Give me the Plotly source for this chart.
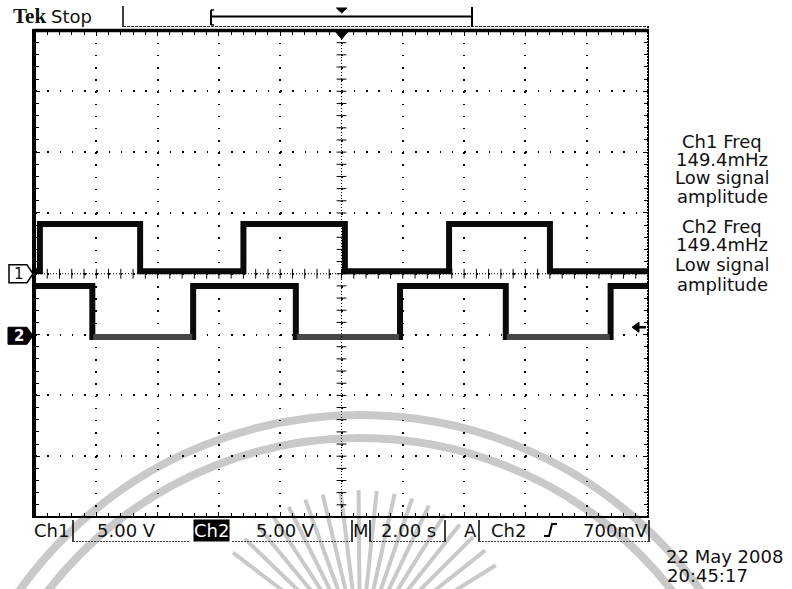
import numpy as np
import plotly.graph_objects as go

W, H = 792, 589

# ---- acquisition settings ----
volts_per_div = 5.00
sec_per_div = 2.00
ch1_position = 0.0      # ground marker offset, divisions
ch2_position = -1.02
trigger_level = 0.7     # V, Ch2 rising edge
ch1_freq_mhz = 149.4
ch2_freq_mhz = 149.4

# ---- waveforms: edge times (s) and the level held from each time ----
ch1_time = [-10.0, -9.84, -6.57, -3.20, 0.11, 3.51, 6.80, 10.0]
ch1_volts = [0.2, 4.1, 0.2, 4.1, 0.2, 4.1, 0.2, 0.2]

ch2_time = [-10.0, -8.13, -4.84, -1.49, 1.91, 5.36, 8.78, 10.0]
ch2_volts = [4.1, -0.1, 4.1, -0.1, 4.1, -0.1, 4.1, 4.1]

# ---- screen geometry (pixels) ----
GX0, GX1 = 35, 648
GY0, GY1 = 30.5, 517
FONT = "DejaVu Sans"


def px(x):
    return x / W


def py(y):
    return 1 - y / H


def div_to_pix(d):
    return GY0 + (4 - d) * (GY1 - GY0) / 8


def seg(x0, y0, x1, y1, w=1.0, color="black", dash=None, layer="above"):
    line = dict(color=color, width=w)
    if dash:
        line["dash"] = dash
    return dict(type="line", xref="paper", yref="paper", layer=layer,
                x0=px(x0), y0=py(y0), x1=px(x1), y1=py(y1), line=line)


def poly(points, fill="black", stroke="black", w=1.0, closed=True):
    p = "M " + " L ".join(f"{px(x):.5f},{py(y):.5f}" for x, y in points)
    if closed:
        p += " Z"
    return dict(type="path", xref="paper", yref="paper", path=p,
                fillcolor=fill, line=dict(color=stroke, width=w))


def to_div(volts, pos):
    return [v / volts_per_div + pos for v in volts]


ch1_div = to_div(ch1_volts, ch1_position)
ch2_div = to_div(ch2_volts, ch2_position)

fig = go.Figure()

# centre graticule cross-hair ticks
cy_ticks = np.arange(-4, 4.001, 0.2)
cx_ticks = np.arange(-10, 10.001, 0.4)
fig.add_trace(go.Scatter(x=np.zeros_like(cy_ticks), y=cy_ticks, mode="markers",
                         marker=dict(symbol="line-ew", size=7, color="black",
                                     line=dict(color="black", width=1)),
                         hoverinfo="skip", showlegend=False))
fig.add_trace(go.Scatter(x=cx_ticks, y=np.zeros_like(cx_ticks), mode="markers",
                         marker=dict(symbol="line-ns", size=7, color="black",
                                     line=dict(color="black", width=1)),
                         hoverinfo="skip", showlegend=False))

# channel traces
fig.add_trace(go.Scatter(x=ch1_time, y=ch1_div, mode="lines", line_shape="hv",
                         line=dict(color="#0a0a0a", width=6), name="Ch1",
                         showlegend=False))
fig.add_trace(go.Scatter(x=ch2_time, y=ch2_div, mode="lines", line_shape="hv",
                         line=dict(color="#0a0a0a", width=6), name="Ch2",
                         showlegend=False))

# Ch2 low plateaus render in a dimmer tone
lx, ly = [], []
for i in range(len(ch2_time) - 1):
    if ch2_volts[i] < 1.0:
        lx += [ch2_time[i] + 0.03, ch2_time[i + 1] - 0.03, None]
        ly += [ch2_div[i], ch2_div[i], None]
fig.add_trace(go.Scatter(x=lx, y=ly, mode="lines",
                         line=dict(color="#474747", width=6),
                         hoverinfo="skip", showlegend=False))

shapes = []

# faint seal watermark behind the screen
wm = "#c9c9c9"
for cx, cy, r in [(360, 833, 418), (360, 833, 395)]:
    shapes.append(dict(type="circle", xref="paper", yref="paper", layer="below",
                       x0=px(cx - r), x1=px(cx + r), y0=py(cy + r), y1=py(cy - r),
                       line=dict(color=wm, width=8)))
for ang in np.arange(32, 149, 6.5):
    a = np.radians(ang)
    shapes.append(seg(360 + 60 * np.cos(a), 650 - 60 * np.sin(a),
                      360 + 160 * np.cos(a), 650 - 160 * np.sin(a),
                      w=4, color=wm, layer="below"))

# centre lines (finer dotting)
shapes.append(dict(type="line", xref="x", yref="y", x0=0, x1=0, y0=-4, y1=4,
                   line=dict(color="black", width=1, dash="1px,2px")))
shapes.append(dict(type="line", xref="x", yref="y", x0=-10, x1=10, y0=0, y1=0,
                   line=dict(color="black", width=1, dash="1px,2px")))

# graticule frame
shapes.append(seg(GX0 - 1, GY0 - 1.5, GX0 - 1, GY1 + 1, w=4))
shapes.append(seg(GX0 - 2, GY0, GX1 + 1, GY0, w=3.5))
shapes.append(seg(GX1, 26, GX1, GY1 + 1, w=2, dash="2px,1px"))
shapes.append(seg(GX0 - 2, GY1, GX1 + 1, GY1, w=2))

# top status strip
shapes.append(seg(123, 6, 123, 27, w=1.5))
shapes.append(seg(123, 26.5, GX1, 26.5, w=1, color="#333", dash="3px,1px"))
shapes.append(seg(211, 16.5, 472, 16.5, w=2))
shapes.append(seg(211, 10, 211, 25, w=2))
shapes.append(seg(211, 10, 214, 10, w=1.5))
shapes.append(seg(211, 25, 214, 25, w=1.5))
shapes.append(seg(472, 7, 472, 27, w=2))
shapes.append(poly([(336.5, 8), (347, 8), (341.7, 13)]))
shapes.append(poly([(335, 31), (348.5, 31), (341.7, 39)]))

# channel ground markers
g1 = div_to_pix(ch1_position)
g2 = div_to_pix(ch2_position)
shapes.append(poly([(9, g1 - 9), (27, g1 - 9), (33, g1), (27, g1 + 9), (9, g1 + 9)],
                   fill="white", w=1.5))
shapes.append(poly([(8, g2 - 8.5), (27, g2 - 8.5), (33, g2), (27, g2 + 8.5), (8, g2 + 8.5)],
                   fill="black", w=1))

# trigger level arrow on the right edge
gt = div_to_pix(ch2_position + trigger_level / volts_per_div)
shapes.append(seg(637, gt, 646, gt, w=2.5))
shapes.append(poly([(632, gt), (639, gt - 5), (639, gt + 5)]))

# bottom readout frame
for x in (73, 352, 370, 445, 479, 649):
    shapes.append(seg(x, 520, x, 542, w=1.5))
for x0, x1 in ((73, 190), (232, 350), (370, 445), (479, 649)):
    shapes.append(seg(x0, 541.5, x1, 541.5, w=1, color="#444", dash="2px,1px"))
# rising-edge trigger slope glyph
shapes.append(poly([(544, 536), (549, 536), (552, 524), (557, 524)],
                   fill="rgba(0,0,0,0)", w=2, closed=False))

annotations = []


def txt(s, x, y, size=18, anchor="center", color="#111", family=FONT, **kw):
    annotations.append(dict(text=s, x=px(x), y=py(y), xref="paper", yref="paper",
                            showarrow=False, xanchor=anchor, yanchor="middle",
                            font=dict(family=family, size=size, color=color), **kw))


txt("<b>Tek</b>", 11, 16, size=21, anchor="left", family="Liberation Serif")
txt("Stop", 49, 16, size=18, anchor="left")

txt("1", 19, g1, size=15)
txt("<b>2</b>", 18.5, g2, size=15, color="white")

# measurement panel
panel = [
    ("Ch1 Freq", 141), (f"{ch1_freq_mhz:.1f}mHz", 159),
    ("Low signal", 177), ("amplitude", 196),
    ("Ch2 Freq", 226), (f"{ch2_freq_mhz:.1f}mHz", 244),
    ("Low signal", 264), ("amplitude", 284),
]
for s, y in panel:
    txt(s, 722, y, size=18)

# readout line
txt("Ch1", 51, 530)
txt(f"{volts_per_div:.2f} V", 126, 530)
txt("Ch2", 211.5, 530, color="white", bgcolor="black", borderpad=0)
txt(f"{volts_per_div:.2f} V", 285, 530)
txt("M", 361, 530)
txt(f"{sec_per_div:.2f} s", 408, 530)
txt("A", 470, 530)
txt("Ch2", 509, 530)
txt(f"{trigger_level * 1000:.0f}mV", 615, 530)

txt("22 May 2008", 664, 556, anchor="left")
txt("20:45:17", 665, 575, anchor="left")

fig.update_layout(
    width=W, height=H,
    margin=dict(l=0, r=0, t=0, b=0),
    paper_bgcolor="white",
    plot_bgcolor="rgba(0,0,0,0)",
    shapes=shapes,
    annotations=annotations,
    showlegend=False,
    xaxis=dict(domain=[px(GX0), px(GX1)], range=[-5 * sec_per_div, 5 * sec_per_div],
               dtick=sec_per_div, tick0=0, showgrid=True, gridcolor="black",
               gridwidth=1.5, griddash="1.5px,10.67px", zeroline=False,
               showticklabels=False, ticks="inside", ticklen=5, tickcolor="black",
               showline=True, linecolor="black", linewidth=1, mirror="ticks",
               minor=dict(dtick=sec_per_div / 5, tick0=0, ticks="inside", ticklen=4,
                          tickcolor="black", showgrid=False),
               fixedrange=True),
    yaxis=dict(domain=[py(GY1), py(GY0)], range=[-4, 4], dtick=1, tick0=0,
               showgrid=True, gridcolor="black", gridwidth=1.5,
               griddash="1.5px,10.76px", zeroline=False, showticklabels=False,
               ticks="inside", ticklen=5, tickcolor="black", showline=True,
               linecolor="black", linewidth=1, mirror="ticks",
               minor=dict(dtick=0.2, tick0=0, ticks="inside", ticklen=4,
                          tickcolor="black", showgrid=False),
               fixedrange=True),
)

fig.write_html("out.html")
